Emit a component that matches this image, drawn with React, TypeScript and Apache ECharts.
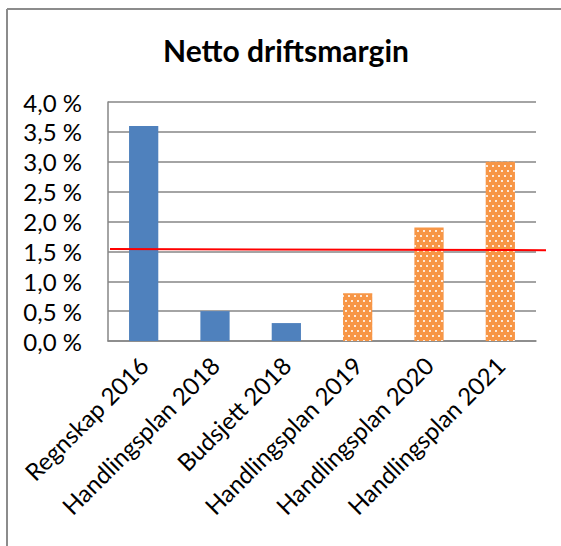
import React, { useEffect, useRef } from "react";
import * as echarts from "echarts";

const categories = [
  "Regnskap 2016",
  "Handlingsplan 2018",
  "Budsjett 2018",
  "Handlingsplan 2019",
  "Handlingsplan 2020",
  "Handlingsplan 2021",
];
const values = [3.6, 0.5, 0.3, 0.8, 1.9, 3.0];
const isPlan = [false, false, false, true, true, true];
const yTicks = { min: 0, max: 4, interval: 0.5 };
const refLine = [
  [0, 1.54],
  [1, 1.52],
];
const title = "Netto driftsmargin";

const BLUE = "#4F81BD";
const ORANGE = "#F79646";
const FONT = "Lato";

export default function App() {
  const ref = useRef<HTMLDivElement>(null);
  useEffect(() => {
    if (!ref.current) return;
    const chart = echarts.init(ref.current, undefined, { renderer: "svg" });
    const decal = {
      symbol: "rect",
      symbolSize: 1,
      color: "rgba(255,255,255,0.8)",
      dashArrayX: [
        [2, 4],
        [0, 3, 2, 1],
      ],
      dashArrayY: [2, 3],
      rotation: 0,
    };
    chart.setOption({
      animation: false,
      backgroundColor: "#ffffff",
      title: {
        text: title,
        left: 281,
        top: 30,
        textAlign: "center",
        textStyle: { fontFamily: FONT, fontWeight: "bold", fontSize: 30, color: "#000" },
      },
      graphic: [
        {
          type: "line",
          shape: { x1: 7, y1: 9, x2: 561, y2: 9 },
          style: { stroke: "#8c8c8c", lineWidth: 2 },
          silent: true,
        },
        {
          type: "line",
          shape: { x1: 7, y1: 9, x2: 7, y2: 546 },
          style: { stroke: "#8c8c8c", lineWidth: 2 },
          silent: true,
        },
        {
          type: "rect",
          shape: { x: 548, y: 11, width: 20, height: 540 },
          style: { fill: "#ffffff" },
          silent: true,
          z: 100,
        },
      ],
      grid: [
        { left: 108, right: 25, top: 102, bottom: 205, containLabel: false },
        { left: 110, right: 15, top: 102, bottom: 205, containLabel: false },
      ],
      xAxis: [
        {
          type: "category",
          gridIndex: 0,
          data: categories,
          axisLine: { lineStyle: { color: "#868686", width: 1.5 } },
          axisTick: { show: false },
          axisLabel: {
            rotate: 45,
            interval: 0,
            margin: 20,
            fontFamily: FONT,
            fontSize: 24,
            color: "#000",
          },
        },
        { type: "value", gridIndex: 1, min: 0, max: 1, show: false },
      ],
      yAxis: [
        {
          type: "value",
          gridIndex: 0,
          min: yTicks.min,
          max: yTicks.max,
          interval: yTicks.interval,
          axisLine: { show: true, lineStyle: { color: "#868686", width: 1.5 } },
          axisTick: { show: false },
          splitLine: { lineStyle: { color: "#868686", width: 1.5 } },
          axisLabel: {
            margin: 26,
            fontFamily: FONT,
            fontSize: 24,
            color: "#000",
            formatter: (v: number) => v.toFixed(1).replace(".", ",") + " %",
          },
        },
        { type: "value", gridIndex: 1, min: yTicks.min, max: yTicks.max, show: false },
      ],
      series: [
        {
          type: "bar",
          xAxisIndex: 0,
          yAxisIndex: 0,
          barWidth: "41%",
          data: values.map((v, i) =>
            isPlan[i]
              ? { value: v, itemStyle: { color: ORANGE, decal } }
              : { value: v, itemStyle: { color: BLUE } }
          ),
        },
        {
          type: "line",
          xAxisIndex: 1,
          yAxisIndex: 1,
          data: refLine,
          symbol: "none",
          lineStyle: { color: "#ff0000", width: 2 },
          z: 5,
        },
      ],
    });
    return () => chart.dispose();
  }, []);
  return (
    <div
      ref={ref}
      style={{ position: "fixed", left: 0, top: 0, width: 561, height: 546, background: "#fff" }}
    />
  );
}
